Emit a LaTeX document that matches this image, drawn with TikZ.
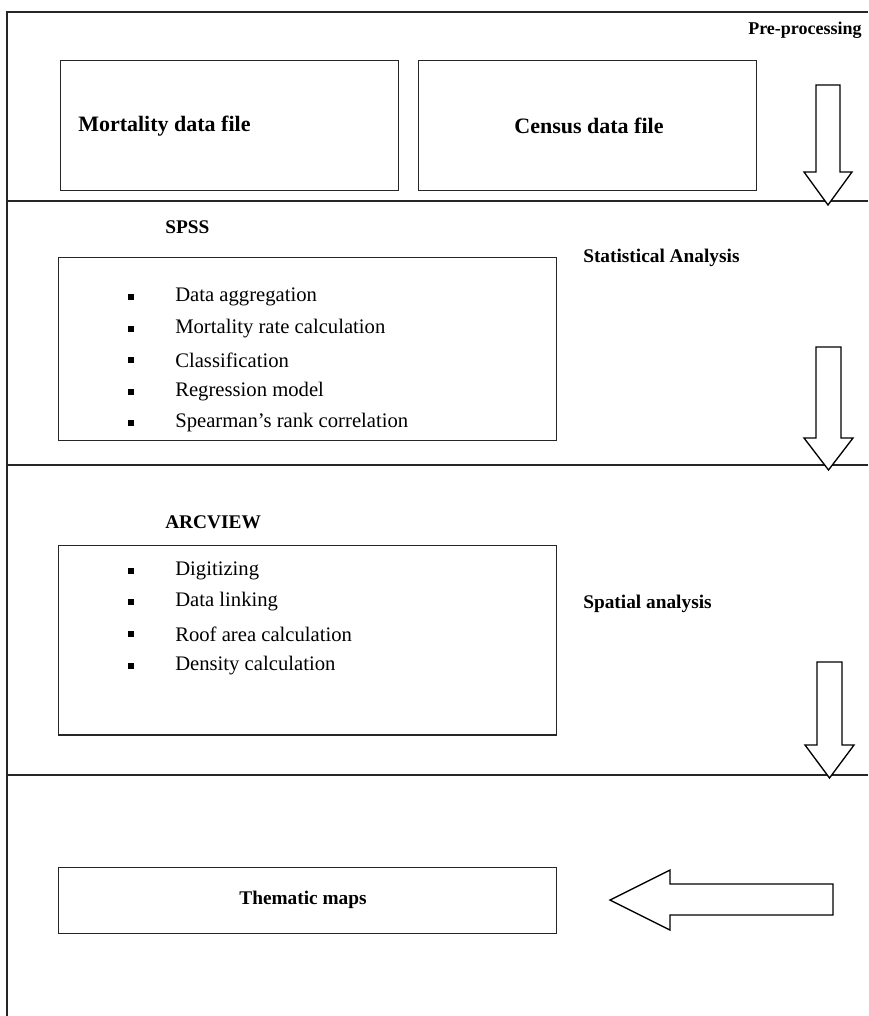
\documentclass[tikz,border=0pt]{standalone}
\usepackage{fontspec}
\setmainfont{Liberation Serif}
\begin{document}
\begin{tikzpicture}[x=0.75pt,y=-0.75pt,
  frame/.style={line width=1pt, draw=black!85},
  box/.style={draw=black!85, line width=1pt, anchor=north west, inner sep=0pt},
  head/.style={font=\fontsize{14.5}{17}\selectfont\bfseries, inner sep=0pt},
  bighead/.style={font=\fontsize{16.5}{19}\selectfont\bfseries, inner sep=0pt},
  item/.style={font=\fontsize{15.5}{18}\selectfont, anchor=west, inner sep=0pt},
  bul/.style={fill=black, minimum size=4.5pt, inner sep=0pt},
  bigarrow/.style={draw=black, line width=1pt, fill=white, line join=miter}]
\useasboundingbox (0,0) rectangle (868,1016);
% outer frame and section dividers
\coordinate (tl) at (7,12);
\coordinate (tr) at (868,12);
\coordinate (bl) at (7,1016);
\draw[frame] (bl) -- (tl) -- (tr);
\coordinate (d1l) at (7,201); \coordinate (d1r) at (868,201);
\coordinate (d2l) at (7,465); \coordinate (d2r) at (868,465);
\coordinate (d3l) at (7,775); \coordinate (d3r) at (868,775);
\draw[frame] (d1l) -- (d1r);
\draw[frame] (d2l) -- (d2r);
\draw[frame] (d3l) -- (d3r);
% Pre-processing
\node[head, anchor=west, font=\fontsize{13.5}{16}\selectfont\bfseries] (pre) at (748,30) {Pre-processing};
\node[box, minimum width=253.5pt, minimum height=97.5pt] (mort) at (60,60) {};
\node[bighead, anchor=west] (mortt) at (78,126) {Mortality data file};
\node[box, minimum width=253.5pt, minimum height=97.5pt] (cens) at (418,60) {};
\node[bighead] (censt) at (589,126) {Census data file};
\draw[bigarrow] (816,85) -- (840,85) -- (840,172) -- (852,172) -- (828,205) -- (804,172) -- (816,172) -- cycle;
% SPSS
\node[head, anchor=west] (spss) at (165,227) {SPSS};
\node[box, minimum width=373.5pt, minimum height=137pt] (spssbox) at (58,257) {};
\node[head, anchor=west] (stat) at (583,258) {Statistical Analysis};
\foreach \y/\t in {297/Data aggregation,329/Mortality rate calculation,360/Classification,392/Regression model,423/Spearman's rank correlation}{
  \node[bul] at (131,\y) {};
  \node[item] at (175,\y) {\t};
}
\draw[bigarrow] (816,347) -- (841,347) -- (841,438) -- (853,438) -- (828.5,470) -- (804,438) -- (816,438) -- cycle;
% ARCVIEW
\node[head, anchor=west] (arc) at (165,522) {ARCVIEW};
\node[box, minimum width=373.5pt, minimum height=142pt] (arcbox) at (58,545) {};
\node[head, anchor=west] (spat) at (583,604) {Spatial analysis};
\foreach \y/\t in {571/Digitizing,602/Data linking,634/Roof area calculation,666/Density calculation}{
  \node[bul] at (131,\y) {};
  \node[item] at (175,\y) {\t};
}
\draw[bigarrow] (817,662) -- (842,662) -- (842,745) -- (854,745) -- (829.5,778) -- (805,745) -- (817,745) -- cycle;
% Thematic maps
\node[box, minimum width=373.5pt, minimum height=49.5pt] (them) at (58,867) {};
\node[head] (themt) at (303,900) {Thematic maps};
\draw[bigarrow] (833,884) -- (833,915) -- (670,915) -- (670,930) -- (610,900) -- (670,870) -- (670,884) -- cycle;
\end{tikzpicture}
\end{document}
